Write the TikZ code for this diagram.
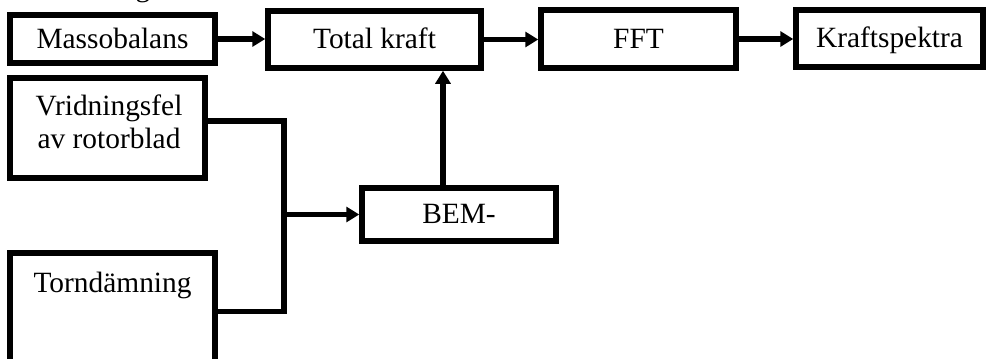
\documentclass[tikz,border=0pt]{standalone}
\usepackage{fontspec}
\setmainfont{Liberation Serif}
\usetikzlibrary{arrows.meta}
\begin{document}
\begin{tikzpicture}[x=1pt,y=-1pt,
  every node/.style={font=\fontsize{29.4}{33}\selectfont},
  blockbox/.style={draw=black,line width=5.5pt,fill=white,rectangle,inner sep=0pt,
    text height=20pt,text depth=2pt},
  txt/.style={inner sep=0pt,anchor=base},
  link/.style={line width=5.5pt,draw=black},
  arr/.style={link,-{Triangle[length=13pt,width=15pt]}}]
\useasboundingbox (0,0) rectangle (986,359);

% top row
\node[blockbox,minimum width=205pt,minimum height=48pt] (mass) at (112.5,39) {Massobalans};
\node[blockbox,minimum width=213pt,minimum height=57pt] (total) at (374.5,39.5) {Total kraft};
\node[blockbox,minimum width=195pt,minimum height=58pt] (fft) at (638.5,39) {FFT};
\node[blockbox,minimum width=187pt,minimum height=57pt] (spek) at (889.5,38.5) {Kraftspektra};

% left column inputs
\node[blockbox,minimum width=195pt,minimum height=100pt] (vrid) at (107.5,128) {};
\node[txt] (vrid1) at (109,115) {Vridningsfel};
\node[txt] (vrid2) at (109,148) {av rotorblad};
\node[blockbox,minimum width=205pt,minimum height=117pt] (torn) at (112.5,311.5) {};
\node[txt] (torn1) at (112.5,292) {Torndämning};

% BEM block
\node[blockbox,minimum width=194pt,minimum height=53pt] (bem) at (459,214.5) {BEM-};

% fragment of a text line above the top edge
\node[txt] (frag) at (143,-3.5) {g};

% connectors
\draw[arr] (mass.east) -- (mass.east -| total.west);
\draw[arr] (total.east) -- (total.east -| fft.west);
\draw[arr] (fft.east) -- (fft.east -| spek.west);
\draw[arr] ([xshift=-16pt]bem.north) -- ([xshift=-16pt]bem.north |- total.south);

\coordinate (joint) at (284,214.5);
\draw[link] ([yshift=7pt]vrid.east) -| (joint) |- (torn.east);
\draw[arr] (joint) -- (bem.west);
\end{tikzpicture}
\end{document}
